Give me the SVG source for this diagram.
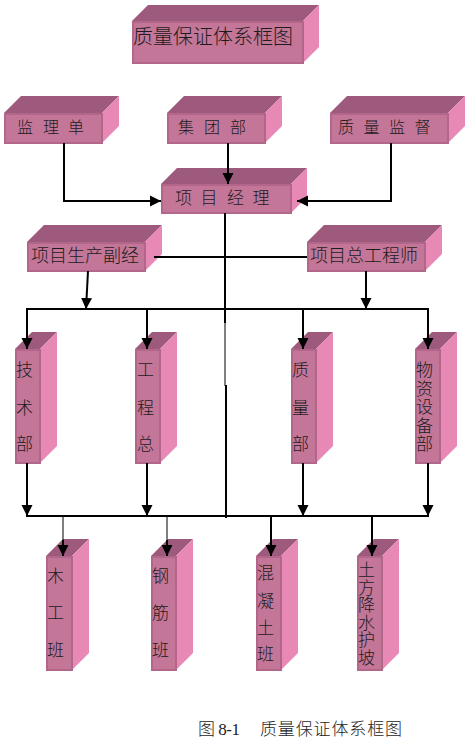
<svg xmlns="http://www.w3.org/2000/svg" width="466" height="740" viewBox="0 0 466 740">
<style>
.front{fill:#C47698;stroke:#B2668A;stroke-width:2}
.top{fill:#9D5A7C}
.side{fill:#E888B4}
.t{font-family:"Liberation Serif","Noto Sans CJK SC",serif;font-weight:300;fill:#1c1c1c;dominant-baseline:central}
.ln{fill:none;stroke:#000;stroke-width:2}
.ar{fill:none;stroke:#000;stroke-width:2;marker-end:url(#ah)}
</style>
<defs>
<marker id="ah" markerUnits="userSpaceOnUse" markerWidth="12" markerHeight="12" viewBox="0 0 12 12" refX="11" refY="6" orient="auto">
<path d="M0,0.5 L11,6 L0,11.5 Z" fill="#000"/>
</marker>
</defs>
<rect width="466" height="740" fill="#fff"/>

<g id="title">
<polygon class="top" points="132,21 148,5 319,5 303,21"/>
<polygon class="side" points="303,21 319,5 319,47 303,63"/>
<rect class="front" x="133" y="22" width="170" height="41"/>
<text class="t" x="133" y="37" font-size="20">质量保证体系框图</text>
</g>

<g id="jianli">
<polygon class="top" points="4,113 21,96 119,96 102,113"/>
<polygon class="side" points="102,113 119,96 119,126 102,143"/>
<rect class="front" x="5" y="114" width="97" height="29"/>
<text class="t" x="17 43 68" y="127" font-size="16">监理单</text>
</g>

<g id="jituan">
<polygon class="top" points="167,113 184,96 282,96 265,113"/>
<polygon class="side" points="265,113 282,96 282,126 265,143"/>
<rect class="front" x="168" y="114" width="97" height="29"/>
<text class="t" x="178 204 230" y="127" font-size="16">集团部</text>
</g>

<g id="zhiliangjiandu">
<polygon class="top" points="330,113 347,96 465,96 448,113"/>
<polygon class="side" points="448,113 465,96 465,126 448,143"/>
<rect class="front" x="331" y="114" width="117" height="29"/>
<text class="t" x="338 363.5 389 414.5" y="127" font-size="16">质量监督</text>
</g>

<g id="xiangmujingli">
<polygon class="top" points="161,184 177,168 307,168 291,184"/>
<polygon class="side" points="291,184 307,168 307,197 291,213"/>
<rect class="front" x="162" y="185" width="129" height="28"/>
<text class="t" x="175 200.5 227 252.5" y="198" font-size="17">项目经理</text>
</g>

<g id="fujingli">
<polygon class="top" points="27,242 44,225 162,225 145,242"/>
<polygon class="side" points="145,242 162,225 162,254 145,271"/>
<rect class="front" x="28" y="243" width="117" height="28"/>
<text class="t" x="31" y="256" font-size="18">项目生产副经</text>
</g>

<g id="zonggong">
<polygon class="top" points="307,242 324,225 442,225 425,242"/>
<polygon class="side" points="425,242 442,225 442,254 425,271"/>
<rect class="front" x="308" y="243" width="117" height="28"/>
<text class="t" x="310" y="256" font-size="18">项目总工程师</text>
</g>

<g id="jishubu">
<polygon class="top" points="15,349 32,332 57,332 40,349"/>
<polygon class="side" points="40,349 57,332 57,446 40,463"/>
<rect class="front" x="16" y="350" width="24" height="113"/>
<text class="t" font-size="17"><tspan x="16" y="370">技</tspan><tspan x="16" y="408">术</tspan><tspan x="16" y="444">部</tspan></text>
</g>

<g id="gongchengzong">
<polygon class="top" points="135,349 152,332 177,332 160,349"/>
<polygon class="side" points="160,349 177,332 177,446 160,463"/>
<rect class="front" x="136" y="350" width="24" height="113"/>
<text class="t" font-size="17"><tspan x="137" y="370">工</tspan><tspan x="137" y="408">程</tspan><tspan x="137" y="444">总</tspan></text>
</g>

<g id="zhiliangbu">
<polygon class="top" points="291,349 308,332 333,332 316,349"/>
<polygon class="side" points="316,349 333,332 333,446 316,463"/>
<rect class="front" x="292" y="350" width="24" height="113"/>
<text class="t" font-size="17"><tspan x="292" y="370">质</tspan><tspan x="292" y="408">量</tspan><tspan x="292" y="444">部</tspan></text>
</g>

<g id="wuzi">
<polygon class="top" points="415,349 432,332 457,332 440,349"/>
<polygon class="side" points="440,349 457,332 457,446 440,463"/>
<rect class="front" x="416" y="350" width="24" height="113"/>
<text class="t" font-size="17"><tspan x="416" y="370">物</tspan><tspan x="416" y="388.5">资</tspan><tspan x="416" y="407">设</tspan><tspan x="416" y="425.5">备</tspan><tspan x="416" y="444">部</tspan></text>
</g>

<g id="mugong">
<polygon class="top" points="46,556 63,539 89,539 72,556"/>
<polygon class="side" points="72,556 89,539 89,653 72,670"/>
<rect class="front" x="47" y="557" width="25" height="113"/>
<text class="t" font-size="17"><tspan x="47" y="576">木</tspan><tspan x="47" y="613">工</tspan><tspan x="47" y="650">班</tspan></text>
</g>

<g id="gangjin">
<polygon class="top" points="151,556 168,539 193,539 176,556"/>
<polygon class="side" points="176,556 193,539 193,653 176,670"/>
<rect class="front" x="152" y="557" width="24" height="113"/>
<text class="t" font-size="17"><tspan x="152" y="576">钢</tspan><tspan x="152" y="613">筋</tspan><tspan x="152" y="650">班</tspan></text>
</g>

<g id="hunningtu">
<polygon class="top" points="256,556 273,539 298,539 281,556"/>
<polygon class="side" points="281,556 298,539 298,653 281,670"/>
<rect class="front" x="257" y="557" width="24" height="113"/>
<text class="t" font-size="17"><tspan x="257" y="573">混</tspan><tspan x="257" y="601">凝</tspan><tspan x="257" y="628">土</tspan><tspan x="257" y="654">班</tspan></text>
</g>

<g id="tufang">
<polygon class="top" points="357,556 374,539 399,539 382,556"/>
<polygon class="side" points="382,556 399,539 399,653 382,670"/>
<rect class="front" x="358" y="557" width="24" height="113"/>
<text class="t" font-size="17"><tspan x="358" y="570">土</tspan><tspan x="358" y="587.5">方</tspan><tspan x="358" y="605">降</tspan><tspan x="358" y="622.5">水</tspan><tspan x="358" y="640">护</tspan><tspan x="358" y="658">坡</tspan></text>
</g>

<g id="connectors">
<path class="ar" d="M64,143 V201 H161"/>
<path class="ar" d="M228,143 V184"/>
<path class="ar" d="M391,143 V201 H297"/>
<path class="ln" d="M225,213 V323"/>
<path d="M225,323 V386" fill="none" stroke="#000" stroke-width="1"/>
<path class="ln" d="M226,385 V518"/>
<path class="ln" d="M154,257 H307"/>
<path class="ar" d="M88,271 L86,309"/>
<path class="ar" d="M366,271 V309"/>
<path class="ln" d="M26,309 H429"/>
<path class="ar" d="M27,309 V349"/>
<path class="ar" d="M147,309 V349"/>
<path class="ar" d="M303,309 V349"/>
<path class="ar" d="M428,309 V349"/>
<path class="ar" d="M27,463 V516"/>
<path class="ar" d="M147,463 V516"/>
<path class="ar" d="M303,463 V516"/>
<path class="ar" d="M428,463 V516"/>
<path class="ln" d="M26,516 H429"/>
<path d="M63,516 V545" fill="none" stroke="#000" stroke-width="1"/>
<path class="ar" d="M63,540 V556"/>
<path d="M167,516 V545" fill="none" stroke="#000" stroke-width="1"/>
<path class="ar" d="M167,540 V556"/>
<path class="ar" d="M271,516 V556"/>
<path class="ar" d="M372,516 V556"/>
</g>

<text class="t" y="729" font-size="17"><tspan x="198" textLength="42" lengthAdjust="spacing">图 8-1</tspan><tspan x="260" textLength="142" lengthAdjust="spacing">质量保证体系框图</tspan></text>
</svg>
